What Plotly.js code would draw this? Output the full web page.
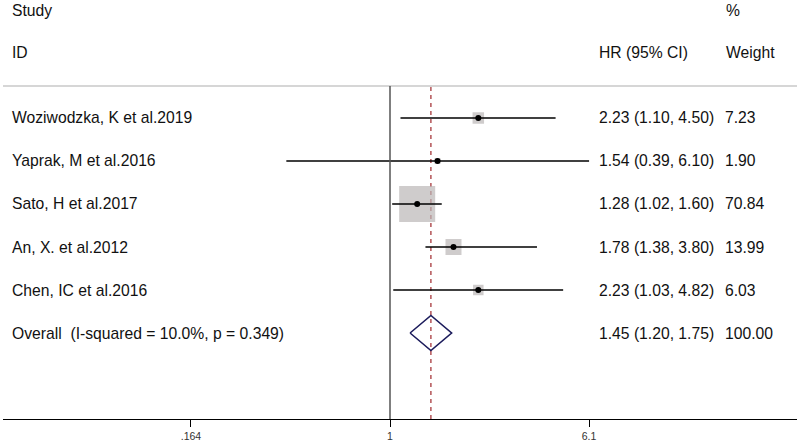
<!DOCTYPE html>
<html>
<head>
<meta charset="utf-8">
<script src="https://cdn.plot.ly/plotly-3.0.1.min.js"></script>
<style>html,body{margin:0;padding:0;background:#fff;}#chart{width:800px;height:447px;}</style>
</head>
<body>
<div id="chart"></div>
<script>
// ---- data ----
var studies = ["Woziwodzka, K et al.2019", "Yaprak, M et al.2016", "Sato, H et al.2017", "An, X. et al.2012", "Chen, IC et al.2016"];
var hr = [2.23, 1.54, 1.28, 1.78, 2.23];
var ciLow = [1.10, 0.39, 1.02, 1.38, 1.03];
var ciHigh = [4.50, 6.10, 1.60, 3.80, 4.82];
var weights = [7.23, 1.90, 70.84, 13.99, 6.03];
var overallLabel = "Overall  (I-squared = 10.0%, p = 0.349)";
var overallHR = 1.45, overallLow = 1.20, overallHigh = 1.75, overallWeight = 100.00;
var tickVals = [0.164, 1, 6.1];
var tickText = [".164", "1", "6.1"];

// ---- build ----
var FONT = "Liberation Sans, Arial, sans-serif";
var rows = studies.map(function(_, i){ return i + 1; });
var overallRow = studies.length + 1;

var ciX = [], ciY = [];
for (var i = 0; i < studies.length; i++) {
  ciX.push(ciLow[i], ciHigh[i], null);
  ciY.push(rows[i], rows[i], null);
}

var traces = [
  { // weight boxes
    type: "scatter", mode: "markers", x: hr, y: rows, hoverinfo: "skip",
    marker: { symbol: "square", color: "#bab6b6",
      size: weights.map(function(w){ return 4.28 * Math.sqrt(w); }), line: { width: 0 } }
  },
  { // CI lines
    type: "scatter", mode: "lines", x: ciX, y: ciY, hoverinfo: "skip",
    line: { color: "#000", width: 1.6 }
  },
  { // point estimates
    type: "scatter", mode: "markers", x: hr, y: rows, hoverinfo: "skip",
    marker: { symbol: "circle", color: "#000", size: 6 }
  },
  { // overall diamond
    type: "scatter", mode: "lines", hoverinfo: "skip",
    x: [overallLow, overallHR, overallHigh, overallHR, overallLow],
    y: [overallRow, overallRow - 0.407, overallRow, overallRow + 0.407, overallRow],
    line: { color: "#1c1c5c", width: 1.6 }
  }
];

var annotations = [];
function ann(text, xp, yv, yref) {
  annotations.push({ text: text, x: xp, y: yv, xref: "paper", yref: yref,
    xanchor: "left", yanchor: "middle", showarrow: false,
    font: { family: FONT, size: 15.7, color: "#111" } });
}
function px(p) { return (p - 3) / 794; }
function py(p) { return (419 - p) / 333; }

ann("Study", px(10), py(10), "paper");
ann("ID", px(10), py(53), "paper");
ann("%", px(724), py(10), "paper");
ann("HR (95% CI)", px(597), py(53), "paper");
ann("Weight", px(724), py(53), "paper");

for (var j = 0; j < studies.length; j++) {
  ann(studies[j], px(10), rows[j], "y");
  ann(hr[j].toFixed(2) + " (" + ciLow[j].toFixed(2) + ", " + ciHigh[j].toFixed(2) + ")", px(597), rows[j], "y");
  ann(weights[j].toFixed(2), px(723), rows[j], "y");
}
ann(overallLabel, px(10), overallRow, "y");
ann(overallHR.toFixed(2) + " (" + overallLow.toFixed(2) + ", " + overallHigh.toFixed(2) + ")", px(597), overallRow, "y");
ann(overallWeight.toFixed(2), px(723), overallRow, "y");

var layout = {
  width: 800, height: 447,
  margin: { l: 3, r: 3, t: 86, b: 28, pad: 0 },
  paper_bgcolor: "#fff", plot_bgcolor: "#fff",
  showlegend: false,
  xaxis: {
    type: "log", range: [-1.5266, 1.6055],
    tickvals: tickVals, ticktext: tickText,
    ticks: "outside", ticklen: 7, tickwidth: 1, tickcolor: "#000",
    showline: true, linecolor: "#000", linewidth: 1.2,
    showgrid: false, zeroline: false,
    tickfont: { family: FONT, size: 10.5, color: "#333" }
  },
  yaxis: {
    range: [8, 0.256], showticklabels: false, showgrid: false,
    zeroline: false, showline: false, ticks: ""
  },
  shapes: [
    { type: "line", xref: "paper", yref: "paper", x0: 0, x1: 1, y0: 1, y1: 1,
      line: { color: "#c8c8c8", width: 1.5 } },
    { type: "line", xref: "x", yref: "paper", x0: 1, x1: 1, y0: 0, y1: 1,
      line: { color: "#555", width: 1.5 } },
    { type: "line", xref: "x", yref: "paper", x0: overallHR, x1: overallHR, y0: 0, y1: 1,
      layer: "below", line: { color: "#a0282c", width: 1.2, dash: "4px,4px" } }
  ],
  annotations: annotations
};

Plotly.newPlot("chart", traces, layout, { staticPlot: true, displayModeBar: false });
</script>
</body>
</html>
